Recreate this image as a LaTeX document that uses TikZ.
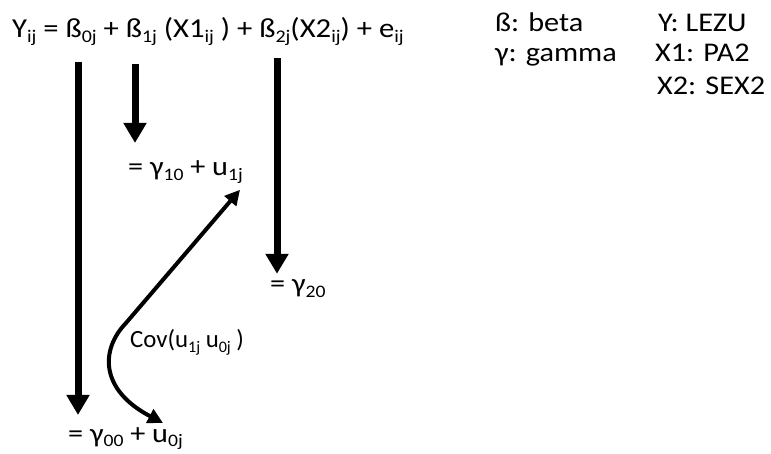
\documentclass[tikz,border=0pt]{standalone}
\usepackage{fontspec}
\setmainfont[FakeStretch=1.12]{Carlito}
\newfontfamily\plainfont{Carlito}
\usetikzlibrary{arrows.meta}
\newcommand{\subs}[1]{\raisebox{-0.17em}{\scalebox{0.65}{#1}}}

\begin{document}
\begin{tikzpicture}[x=1pt,y=-1pt,line join=round,
  txt/.style={anchor=base west,inner sep=0pt,font=\fontsize{27}{32}\selectfont},
  bigarrow/.style={line width=7pt,-{Triangle[width=22pt,length=20pt]}},
  covarrow/.style={line width=4pt,{Triangle[width=15pt,length=15pt]}-{Triangle[width=15pt,length=15pt]}}]
  \useasboundingbox (0,0) rectangle (771,454);
  % model and its parts
  \node[txt,font=\fontsize{27.4}{32}\selectfont] (eq) at (12,38) {Y\subs{ij} = ß\subs{0j} + ß\subs{1j} (X1\subs{ij} ) + ß\subs{2j}(X2\subs{ij}) + e\subs{ij}};
  \node[txt] (g10) at (128,176) {= γ\subs{10} + u\subs{1j}};
  \node[txt] (g20) at (270,293) {= γ\subs{20}};
  \node[txt] (g00) at (68,442) {= γ\subs{00} + u\subs{0j}};
  \node[txt,font=\plainfont\fontsize{24.8}{30}\selectfont] (cov) at (130,348) {Cov(u\subs{1j} u\subs{0j} )};
  % legend
  \node[txt] (beta) at (495,32) {ß: beta};
  \node[txt] (gamma) at (495,62) {γ: gamma};
  \node[txt] (lezu) at (658,32) {Y: LEZU};
  \node[txt] (pa) at (655,62) {X1: PA2};
  \node[txt] (sex) at (657,95) {X2: SEX2};
  % arrows
  \coordinate (b0) at (78,62);
  \coordinate (b1) at (135,64);
  \coordinate (b2) at (277,58);
  \draw[bigarrow,shorten >=12pt] (b0) -- (b0 |- g00.north);
  \draw[bigarrow,shorten >=18pt] (b1) -- (b1 |- g10.north);
  \draw[bigarrow,shorten >=6pt] (b2) -- (b2 |- g20.north);
  \draw[covarrow] ([xshift=-3pt,yshift=-6pt]g10.south east) -- (126,323)
    .. controls (100,350) and (100,390) .. ([xshift=-20pt,yshift=4pt]g00.north east);
\end{tikzpicture}
\end{document}
